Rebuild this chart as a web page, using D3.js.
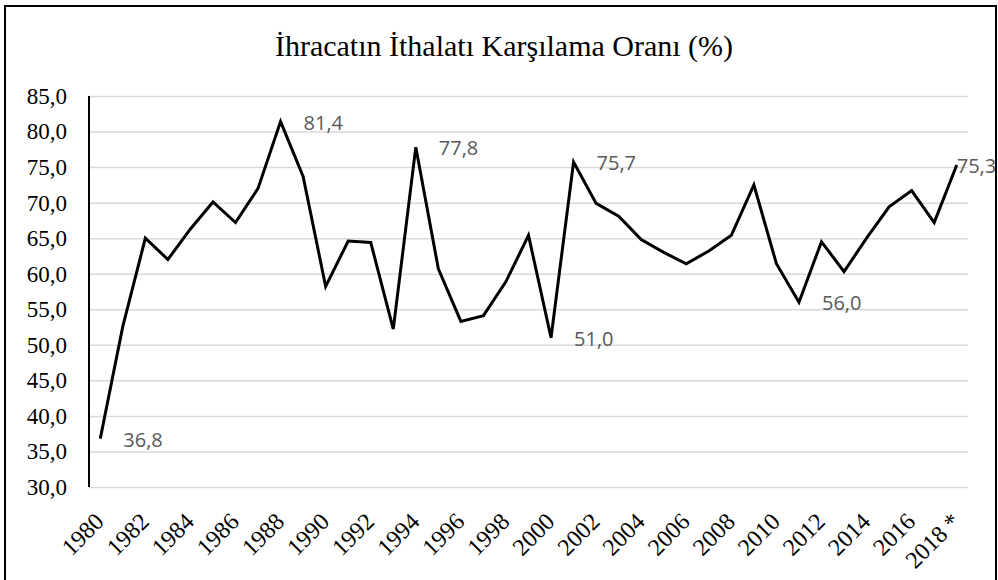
<!DOCTYPE html>
<html>
<head>
<meta charset="utf-8">
<script src="https://cdn.jsdelivr.net/npm/d3@7"></script>
<style>
  body { margin: 0; background: #fff; }
  svg { display: block; }
  .serif { font-family: "Liberation Serif", "DejaVu Serif", serif; }
</style>
</head>
<body>
<div id="chart"></div>
<script>
// chart data
let years = ["1980", "1981", "1982", "1983", "1984", "1985", "1986", "1987", "1988", "1989",
    "1990", "1991", "1992", "1993", "1994", "1995", "1996", "1997", "1998", "1999",
    "2000", "2001", "2002", "2003", "2004", "2005", "2006", "2007", "2008", "2009",
    "2010", "2011", "2012", "2013", "2014", "2015", "2016", "2017", "2018 *"];
let ratio = [36.8, 52.6, 65.0, 62.0, 66.3, 70.1, 67.2, 72.0, 81.4, 73.7,
    58.2, 64.6, 64.4, 52.2, 77.8, 60.7, 53.3, 54.1, 58.9, 65.4,
    51.0, 75.7, 69.9, 68.1, 64.8, 63.0, 61.4, 63.2, 65.4, 72.5,
    61.4, 56.0, 64.5, 60.3, 65.0, 69.4, 71.7, 67.2, 75.3];
let labelled = ["1980", "1988", "1994", "2000", "2001", "2011", "2018 *"];
let yTicks = [30, 35, 40, 45, 50, 55, 60, 65, 70, 75, 80, 85];

let width = 998, height = 580;
let plot = {left: 89, right: 968, top: 96, bottom: 487};

let fmt = v => d3.format(".1f")(v).replace(".", ",");

let svg = d3.select("#chart")
    .append("svg")
    .attr("width", width)
    .attr("height", height);

// outer frame
svg.append("rect")
    .attr("x", 5).attr("y", 6)
    .attr("width", 991).attr("height", 620)
    .attr("fill", "#fff")
    .attr("stroke", "#000")
    .attr("stroke-width", 2);

let x = d3.scaleBand()
    .domain(years)
    .range([plot.left, plot.right])
    .padding(0);

let y = d3.scaleLinear()
    .domain([30, 85])
    .range([plot.bottom, plot.top]);

let cx = d => x(d) + x.bandwidth() / 2;

// title
svg.append("text")
    .attr("class", "serif")
    .attr("x", 504)
    .attr("y", 56)
    .attr("text-anchor", "middle")
    .style("font-size", "30px")
    .text("İhracatın İthalatı Karşılama Oranı (%)");

// grid lines + y labels
let yAxis = svg.append("g")
    .attr("transform", `translate(${plot.left},0)`)
    .call(d3.axisLeft(y).tickValues(yTicks).tickSize(-(plot.right - plot.left)).tickPadding(22).tickFormat(fmt));
yAxis.attr("font-family", null);
yAxis.select(".domain").remove();
yAxis.selectAll(".tick line")
    .attr("stroke", "#d9d9d9")
    .attr("stroke-width", 1.5);
yAxis.selectAll(".tick text")
    .attr("class", "serif")
    .style("font-size", "23px")
    .attr("fill", "#000");

// vertical axis line
svg.append("line")
    .attr("x1", plot.left).attr("x2", plot.left)
    .attr("y1", plot.top).attr("y2", plot.bottom)
    .attr("stroke", "#000")
    .attr("stroke-width", 2);

// x labels, rotated
let xAxis = svg.append("g")
    .attr("transform", `translate(0,${plot.bottom})`)
    .call(d3.axisBottom(x).tickValues(years.filter((d, i) => i % 2 == 0)).tickSize(0));
xAxis.attr("font-family", null);
xAxis.select(".domain").remove();
xAxis.selectAll(".tick text")
    .attr("class", "serif")
    .style("font-size", "24px")
    .attr("fill", "#000")
    .attr("text-anchor", "end")
    .attr("dy", "0.35em")
    .attr("transform", "translate(-3,28) rotate(-45)");

// the line
let line = d3.line()
    .x((d, i) => cx(years[i]))
    .y(d => y(d));

svg.append("path")
    .datum(ratio)
    .attr("fill", "none")
    .attr("stroke", "#000")
    .attr("stroke-width", 3)
    .attr("stroke-linejoin", "miter")
    .attr("d", line);

// data labels
svg.append("g")
    .selectAll("text")
    .data(labelled)
    .join("text")
    .attr("x", d => cx(d) + (d == years[years.length - 1] ? 0 : 23))
    .attr("y", d => y(ratio[years.indexOf(d)]) + 8)
    .style("font-family", "'Open Sans', sans-serif")
    .style("font-size", "20px")
    .attr("fill", "#595959")
    .text(d => fmt(ratio[years.indexOf(d)]));
</script>
</body>
</html>
